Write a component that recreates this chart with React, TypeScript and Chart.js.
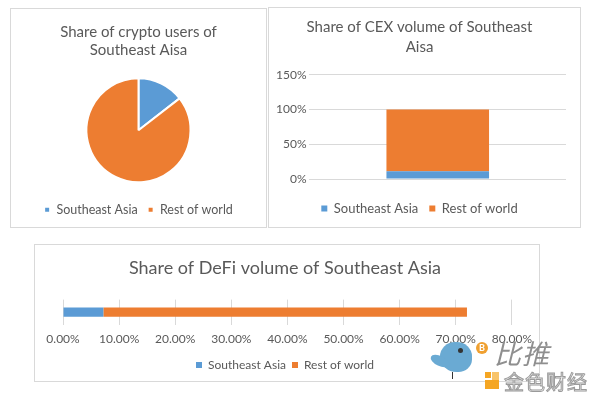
import React, { useEffect, useRef } from "react";
import { Chart, registerables } from "chart.js";
Chart.register(...registerables);

const seriesNames = ["Southeast Asia", "Rest of world"];
const seriesColors = ["#5B9BD5", "#ED7D31"];
const usersTitle = ["Share of crypto users of", "Southeast Aisa"];
const usersShare = [14.5, 85.5];
const cexTitle = ["Share of CEX volume of Southeast", "Aisa"];
const cexCategories = [""];
const cexSoutheast = [11];
const cexRest = [89];
const defiTitle = "Share of DeFi volume of Southeast Asia";
const defiCategories = [""];
const defiSoutheast = [7.2];
const defiRest = [64.8];

const FONT = "Lato, 'Noto Sans', 'DejaVu Sans', sans-serif";
const TEXT = "#595959";
const GRID = "#d9d9d9";

const legendOpts = (size: number, padding = 10) => ({
  display: true,
  position: "bottom" as const,
  labels: {
    boxWidth: 6,
    boxHeight: 6,
    color: TEXT,
    font: { family: FONT, size },
    padding,
  },
});

function useChart(make: (c: HTMLCanvasElement) => Chart) {
  const ref = useRef<HTMLCanvasElement>(null);
  useEffect(() => {
    if (!ref.current) return;
    const ch = make(ref.current);
    return () => ch.destroy();
  }, []);
  return ref;
}

function Panel(props: { left: number; top: number; width: number; height: number; children: any }) {
  return (
    <div
      style={{
        position: "absolute",
        left: props.left,
        top: props.top,
        width: props.width,
        height: props.height,
        border: "1px solid #d9d9d9",
        boxSizing: "border-box",
        background: "#fff",
      }}
    >
      {props.children}
    </div>
  );
}

function UsersPie() {
  const ref = useChart(
    (c) =>
      new Chart(c, {
        type: "pie",
        data: {
          labels: seriesNames,
          datasets: [{ data: usersShare, backgroundColor: seriesColors, borderColor: "#fff", borderWidth: 2, radius: 52 }],
        },
        options: {
          animation: false,
          responsive: false,
          layout: { padding: { top: 0, bottom: 1, left: 0, right: 0 } },
          plugins: {
            title: {
              display: true,
              text: usersTitle,
              color: TEXT,
              font: { family: FONT, size: 15, weight: "normal", lineHeight: 1.2 },
              padding: { top: 14, bottom: 8 },
            },
            legend: legendOpts(12.5),
            tooltip: { enabled: false },
          },
        },
      })
  );
  return <canvas ref={ref} width={255} height={218} style={{ display: "block" }} />;
}

function CexBar() {
  const ref = useChart(
    (c) =>
      new Chart(c, {
        type: "bar",
        data: {
          labels: cexCategories,
          datasets: [
            { label: seriesNames[0], data: cexSoutheast, backgroundColor: seriesColors[0], barPercentage: 0.4, categoryPercentage: 1 },
            { label: seriesNames[1], data: cexRest, backgroundColor: seriesColors[1], barPercentage: 0.4, categoryPercentage: 1 },
          ],
        },
        options: {
          animation: false,
          responsive: false,
          layout: { padding: { top: 0, bottom: 2, left: 4, right: 14 } },
          scales: {
            x: {
              stacked: true,
              grid: { display: false },
              border: { display: false },
              ticks: { display: false },
              title: { display: true, text: "", font: { size: 4, lineHeight: 1 }, padding: { top: 0, bottom: 0 } },
            },
            y: {
              stacked: true,
              min: 0,
              max: 150,
              ticks: { stepSize: 50, color: TEXT, font: { family: FONT, size: 12 }, callback: (v: any) => v + "%" },
              grid: { color: GRID, drawTicks: false },
              border: { display: false },
            },
          },
          plugins: {
            title: {
              display: true,
              text: cexTitle,
              color: TEXT,
              font: { family: FONT, size: 15, weight: "normal", lineHeight: 1.33 },
              padding: { top: 9, bottom: 18 },
            },
            legend: legendOpts(13, 11),
            tooltip: { enabled: false },
          },
        },
      })
  );
  return <canvas ref={ref} width={311} height={219} style={{ display: "block" }} />;
}

function DefiBar() {
  const ref = useChart(
    (c) =>
      new Chart(c, {
        type: "bar",
        data: {
          labels: defiCategories,
          datasets: [
            { label: seriesNames[0], data: defiSoutheast, backgroundColor: seriesColors[0], barPercentage: 0.37, categoryPercentage: 1 },
            { label: seriesNames[1], data: defiRest, backgroundColor: seriesColors[1], barPercentage: 0.37, categoryPercentage: 1 },
          ],
        },
        options: {
          indexAxis: "y",
          animation: false,
          responsive: false,
          layout: { padding: { top: 0, bottom: 0, left: 20, right: 24 } },
          scales: {
            y: { stacked: true, grid: { display: false }, border: { display: false }, ticks: { display: false } },
            x: {
              stacked: true,
              min: 0,
              max: 80,
              ticks: { stepSize: 10, color: TEXT, font: { family: FONT, size: 12 }, padding: 7, callback: (v: any) => Number(v).toFixed(2) + "%" },
              grid: { color: GRID, drawTicks: false },
              border: { display: false },
            },
          },
          plugins: {
            title: {
              display: true,
              text: defiTitle,
              color: TEXT,
              font: { family: FONT, size: 18, weight: "normal", lineHeight: 1.2 },
              padding: { top: 12, bottom: 21 },
            },
            legend: legendOpts(12, 6),
            tooltip: { enabled: false },
          },
        },
      })
  );
  return <canvas ref={ref} width={504} height={136} style={{ display: "block" }} />;
}

function Watermark() {
  return (
    <div style={{ position: "absolute", left: 0, top: 0, width: 600, height: 399, pointerEvents: "none" }}>
      <div style={{ position: "absolute", left: 440, top: 342, width: 32, height: 30, borderRadius: "50% 50% 45% 55%", background: "#6aaad3" }} />
      <div style={{ position: "absolute", left: 430, top: 356, width: 20, height: 10, borderRadius: "50%", background: "#6aaad3", transform: "rotate(25deg)" }} />
      <div style={{ position: "absolute", left: 458, top: 348, width: 5, height: 5, borderRadius: "50%", background: "#333" }} />
      <div style={{ position: "absolute", left: 452, top: 372, width: 1, height: 7, background: "#333" }} />
      <div style={{ position: "absolute", left: 476, top: 342, width: 12, height: 12, borderRadius: "50%", background: "#f0a030", color: "#fff", fontSize: 9, lineHeight: "12px", textAlign: "center", fontFamily: FONT, fontWeight: "bold" }}>B</div>
      <div style={{ position: "absolute", left: 494, top: 333, fontFamily: "'Noto Sans CJK SC', sans-serif", fontSize: 27, fontStyle: "italic", color: "#8f8f8f", letterSpacing: 1 }}>比推</div>
      <div style={{ position: "absolute", left: 485, top: 372, width: 6, height: 6, background: "#f5a623" }} />
      <div style={{ position: "absolute", left: 485, top: 380, width: 14, height: 9, background: "#f5a623" }} />
      <div style={{ position: "absolute", left: 492, top: 372, width: 7, height: 8, background: "#f8c46a" }} />
      <div style={{ position: "absolute", left: 504, top: 367, fontFamily: "'Noto Sans CJK SC', sans-serif", fontSize: 20, color: "#f4f4f4", WebkitTextStroke: "1px #9a9a9a", letterSpacing: 1 }}>金色财经</div>
    </div>
  );
}

export default function App() {
  return (
    <div style={{ position: "absolute", left: 0, top: 0, width: 600, height: 399, background: "#fff", overflow: "hidden" }}>
      <Panel left={10} top={8} width={257} height={220}>
        <UsersPie />
      </Panel>
      <Panel left={268} top={7} width={313} height={221}>
        <CexBar />
      </Panel>
      <Panel left={34} top={244} width={506} height={138}>
        <DefiBar />
      </Panel>
      <Watermark />
    </div>
  );
}
